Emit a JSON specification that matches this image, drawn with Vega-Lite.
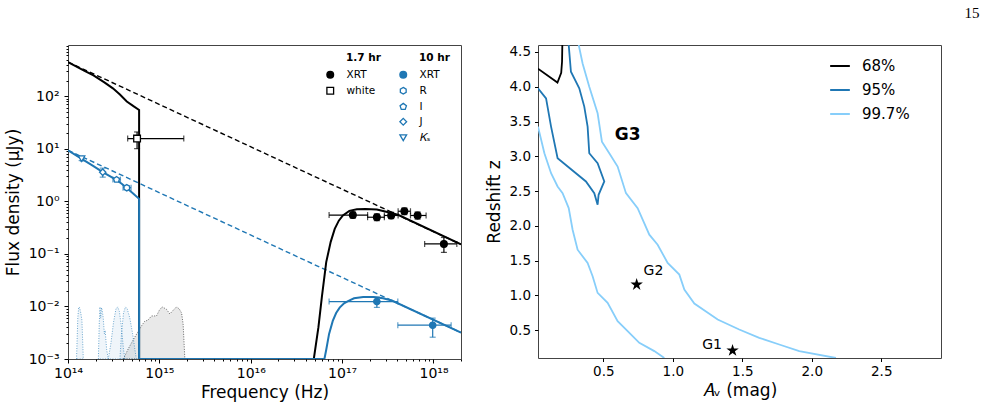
{
"$schema": "https://vega.github.io/schema/vega-lite/v6.json",
"background": "white",
"padding": {"left": 3, "top": 5, "right": 5, "bottom": 5},
"title": {"text": "15", "anchor": "end", "frame": "bounds", "font": "Liberation Serif", "fontSize": 15, "fontWeight": "normal", "color": "black", "offset": 18, "dx": 38},
"config": {
  "font": "DejaVu Sans",
  "view": {"stroke": "#444", "strokeWidth": 1},
  "axis": {"domain": false, "grid": false, "tickColor": "black", "labelColor": "black", "titleColor": "black", "titleFontWeight": "normal", "labelFont": "DejaVu Sans", "titleFont": "DejaVu Sans"}
},
"resolve": {"scale": {"color": "independent", "shape": "independent", "fill": "independent", "stroke": "independent"}, "legend": {"color": "independent"}},
"datasets": {
  "lines": [
    {"s":"bk_pl","o":0,"nu":1e14,"f":450},{"s":"bk_pl","o":1,"nu":2e18,"f":0.152},
    {"s":"bl_pl","o":0,"nu":1e14,"f":9.4},{"s":"bl_pl","o":1,"nu":2e18,"f":0.00318},
    {"s":"bk","o":0,"nu":1e14,"f":450},{"s":"bk","o":1,"nu":1.5e14,"f":310},{"s":"bk","o":2,"nu":1.9e14,"f":250},{"s":"bk","o":3,"nu":2.5e14,"f":185},{"s":"bk","o":4,"nu":3.1e14,"f":142},{"s":"bk","o":5,"nu":3.7e14,"f":108},{"s":"bk","o":6,"nu":4.4e14,"f":80},{"s":"bk","o":7,"nu":5.2e14,"f":65},{"s":"bk","o":8,"nu":6e14,"f":55},{"s":"bk","o":9,"nu":6e14,"f":0.001},{"s":"bk","o":10,"nu":4.9e16,"f":0.001},{"s":"bk","o":11,"nu":5.5e16,"f":0.004},{"s":"bk","o":12,"nu":6e16,"f":0.015},{"s":"bk","o":13,"nu":6.7e16,"f":0.07},{"s":"bk","o":14,"nu":7.5e16,"f":0.17},{"s":"bk","o":15,"nu":8.3e16,"f":0.3},{"s":"bk","o":16,"nu":9.2e16,"f":0.43},{"s":"bk","o":17,"nu":1.02e17,"f":0.54},{"s":"bk","o":18,"nu":1.2e17,"f":0.66},{"s":"bk","o":19,"nu":1.45e17,"f":0.71},{"s":"bk","o":20,"nu":1.8e17,"f":0.72},{"s":"bk","o":21,"nu":2.4e17,"f":0.7},{"s":"bk","o":22,"nu":3.2e17,"f":0.62},{"s":"bk","o":23,"nu":4.2e17,"f":0.545},{"s":"bk","o":24,"nu":2e18,"f":0.152},
    {"s":"bl","o":0,"nu":1e14,"f":9.4},{"s":"bl","o":1,"nu":1.4e14,"f":6.5},{"s":"bl","o":2,"nu":1.9e14,"f":4.7},{"s":"bl","o":3,"nu":2.4e14,"f":3.6},{"s":"bl","o":4,"nu":2.9e14,"f":3.0},{"s":"bl","o":5,"nu":3.4e14,"f":2.55},{"s":"bl","o":6,"nu":3.9e14,"f":2.15},{"s":"bl","o":7,"nu":4.4e14,"f":1.8},{"s":"bl","o":8,"nu":5.2e14,"f":1.4},{"s":"bl","o":9,"nu":6e14,"f":1.12},{"s":"bl","o":10,"nu":6e14,"f":0.001},{"s":"bl","o":11,"nu":6.4e16,"f":0.001},{"s":"bl","o":12,"nu":6.7e16,"f":0.0015},{"s":"bl","o":13,"nu":7.2e16,"f":0.003},{"s":"bl","o":14,"nu":7.9e16,"f":0.0053},{"s":"bl","o":15,"nu":8.6e16,"f":0.0075},{"s":"bl","o":16,"nu":9.4e16,"f":0.0095},{"s":"bl","o":17,"nu":1.05e17,"f":0.0115},{"s":"bl","o":18,"nu":1.16e17,"f":0.0127},{"s":"bl","o":19,"nu":1.35e17,"f":0.0143},{"s":"bl","o":20,"nu":1.7e17,"f":0.0152},{"s":"bl","o":21,"nu":2.2e17,"f":0.0152},{"s":"bl","o":22,"nu":2.8e17,"f":0.0143},{"s":"bl","o":23,"nu":3.5e17,"f":0.013},{"s":"bl","o":24,"nu":2e18,"f":0.00318}
  ],
  "filters": [
    {"filt":"Ks","nu":1.24e14,"f":0.001},{"filt":"Ks","nu":1.28e14,"f":0.006},{"filt":"Ks","nu":1.31e14,"f":0.0098},{"filt":"Ks","nu":1.34e14,"f":0.0095},{"filt":"Ks","nu":1.38e14,"f":0.0075},{"filt":"Ks","nu":1.42e14,"f":0.0055},{"filt":"Ks","nu":1.45e14,"f":0.002},{"filt":"Ks","nu":1.47e14,"f":0.001},
    {"filt":"J","nu":2.15e14,"f":0.001},{"filt":"J","nu":2.2e14,"f":0.005},{"filt":"J","nu":2.24e14,"f":0.0098},{"filt":"J","nu":2.28e14,"f":0.006},{"filt":"J","nu":2.33e14,"f":0.0095},{"filt":"J","nu":2.38e14,"f":0.008},{"filt":"J","nu":2.43e14,"f":0.006},{"filt":"J","nu":2.5e14,"f":0.003},{"filt":"J","nu":2.55e14,"f":0.0035},{"filt":"J","nu":2.65e14,"f":0.0015},{"filt":"J","nu":2.76e14,"f":0.001},
    {"filt":"I","nu":2.76e14,"f":0.001},{"filt":"I","nu":2.95e14,"f":0.002},{"filt":"I","nu":3.15e14,"f":0.005},{"filt":"I","nu":3.35e14,"f":0.009},{"filt":"I","nu":3.5e14,"f":0.0098},{"filt":"I","nu":3.65e14,"f":0.008},{"filt":"I","nu":3.85e14,"f":0.004},{"filt":"I","nu":4.05e14,"f":0.0015},{"filt":"I","nu":4.2e14,"f":0.001},
    {"filt":"R","nu":3.7e14,"f":0.001},{"filt":"R","nu":3.85e14,"f":0.003},{"filt":"R","nu":4.05e14,"f":0.0075},{"filt":"R","nu":4.25e14,"f":0.0098},{"filt":"R","nu":4.45e14,"f":0.009},{"filt":"R","nu":4.75e14,"f":0.006},{"filt":"R","nu":5.1e14,"f":0.003},{"filt":"R","nu":5.4e14,"f":0.0015},{"filt":"R","nu":5.6e14,"f":0.001},
    {"filt":"white","nu":4.03e14,"f":0.001},{"filt":"white","nu":4.6e14,"f":0.0016},{"filt":"white","nu":5.3e14,"f":0.0025},{"filt":"white","nu":5.9e14,"f":0.0034},{"filt":"white","nu":6.5e14,"f":0.0045},{"filt":"white","nu":6.9e14,"f":0.0052},{"filt":"white","nu":7.5e14,"f":0.0055},{"filt":"white","nu":8.2e14,"f":0.0066},{"filt":"white","nu":9.3e14,"f":0.0066},{"filt":"white","nu":1.0e15,"f":0.0085},{"filt":"white","nu":1.07e15,"f":0.0098},{"filt":"white","nu":1.15e15,"f":0.0092},{"filt":"white","nu":1.2e15,"f":0.0088},{"filt":"white","nu":1.3e15,"f":0.0072},{"filt":"white","nu":1.42e15,"f":0.0085},{"filt":"white","nu":1.54e15,"f":0.0098},{"filt":"white","nu":1.65e15,"f":0.009},{"filt":"white","nu":1.75e15,"f":0.0075},{"filt":"white","nu":1.82e15,"f":0.0046},{"filt":"white","nu":1.9e15,"f":0.001}
  ],
  "pts": [
    {"epoch":"1.7 hr","label":"XRT","nu":1.31e17,"f":0.55,"nulo":7.2e16,"nuhi":1.9e17,"flo":0.48,"fhi":0.63},
    {"epoch":"1.7 hr","label":"XRT","nu":2.4e17,"f":0.50,"nulo":1.9e17,"nuhi":2.9e17,"flo":0.43,"fhi":0.58},
    {"epoch":"1.7 hr","label":"XRT","nu":3.44e17,"f":0.54,"nulo":2.9e17,"nuhi":4.1e17,"flo":0.47,"fhi":0.62},
    {"epoch":"1.7 hr","label":"XRT","nu":4.8e17,"f":0.65,"nulo":4.1e17,"nuhi":5.6e17,"flo":0.56,"fhi":0.75},
    {"epoch":"1.7 hr","label":"XRT","nu":6.7e17,"f":0.54,"nulo":5.6e17,"nuhi":8.3e17,"flo":0.46,"fhi":0.63},
    {"epoch":"1.7 hr","label":"XRT","nu":1.3e18,"f":0.155,"nulo":8e17,"nuhi":1.8e18,"flo":0.107,"fhi":0.206},
    {"epoch":"1.7 hr","label":"white","nu":5.7e14,"f":15.7,"nulo":4.5e14,"nuhi":1.85e15,"flo":10.1,"fhi":21},
    {"epoch":"10 hr","label":"XRT","nu":2.4e17,"f":0.0124,"nulo":7.2e16,"nuhi":4.07e17,"flo":0.0096,"fhi":0.0151},
    {"epoch":"10 hr","label":"XRT","nu":9.8e17,"f":0.0044,"nulo":4.07e17,"nuhi":1.56e18,"flo":0.0026,"fhi":0.006},
    {"epoch":"10 hr","label":"R","nu":4.4e14,"f":1.82,"nulo":4.0e14,"nuhi":4.9e14,"flo":1.68,"fhi":1.97},
    {"epoch":"10 hr","label":"I","nu":3.4e14,"f":2.6,"nulo":3.1e14,"nuhi":3.75e14,"flo":2.4,"fhi":2.8},
    {"epoch":"10 hr","label":"J","nu":2.4e14,"f":3.6,"nulo":2.35e14,"nuhi":2.45e14,"flo":2.9,"fhi":4.3},
    {"epoch":"10 hr","label":"Ks","nu":1.41e14,"f":6.5,"nulo":1.37e14,"nuhi":1.45e14,"flo":6.0,"fhi":7.0}
  ],
  "cont": [
    {"lev":"68%","seg":"a","i":0,"av":0.205,"z":4.6},{"lev":"68%","seg":"a","i":1,"av":0.203,"z":4.36},{"lev":"68%","seg":"a","i":2,"av":0.197,"z":4.2},{"lev":"68%","seg":"a","i":3,"av":0.17,"z":4.06},{"lev":"68%","seg":"a","i":4,"av":0.03,"z":4.26},
    {"lev":"95%","seg":"b","i":0,"av":0.03,"z":3.977},{"lev":"95%","seg":"b","i":1,"av":0.088,"z":3.833},{"lev":"95%","seg":"b","i":2,"av":0.124,"z":3.427},{"lev":"95%","seg":"b","i":3,"av":0.171,"z":2.972},{"lev":"95%","seg":"b","i":4,"av":0.375,"z":2.638},{"lev":"95%","seg":"b","i":5,"av":0.435,"z":2.47},{"lev":"95%","seg":"b","i":6,"av":0.459,"z":2.303},{"lev":"95%","seg":"b","i":7,"av":0.466,"z":2.446},{"lev":"95%","seg":"b","i":8,"av":0.507,"z":2.638},{"lev":"95%","seg":"b","i":9,"av":0.459,"z":2.9},{"lev":"95%","seg":"b","i":10,"av":0.399,"z":3.044},{"lev":"95%","seg":"b","i":11,"av":0.387,"z":3.427},{"lev":"95%","seg":"b","i":12,"av":0.363,"z":3.714},{"lev":"95%","seg":"b","i":13,"av":0.327,"z":3.977},{"lev":"95%","seg":"b","i":14,"av":0.267,"z":4.216},{"lev":"95%","seg":"b","i":15,"av":0.251,"z":4.6},
    {"lev":"99.7%","seg":"c","i":0,"av":0.03,"z":3.427},{"lev":"99.7%","seg":"c","i":1,"av":0.076,"z":3.044},{"lev":"99.7%","seg":"c","i":2,"av":0.124,"z":2.757},{"lev":"99.7%","seg":"c","i":3,"av":0.171,"z":2.566},{"lev":"99.7%","seg":"c","i":4,"av":0.207,"z":2.47},{"lev":"99.7%","seg":"c","i":5,"av":0.251,"z":2.255},{"lev":"99.7%","seg":"c","i":6,"av":0.279,"z":1.944},{"lev":"99.7%","seg":"c","i":7,"av":0.315,"z":1.657},{"lev":"99.7%","seg":"c","i":8,"av":0.387,"z":1.466},{"lev":"99.7%","seg":"c","i":9,"av":0.423,"z":1.275},{"lev":"99.7%","seg":"c","i":10,"av":0.459,"z":1.036},{"lev":"99.7%","seg":"c","i":11,"av":0.531,"z":0.892},{"lev":"99.7%","seg":"c","i":12,"av":0.603,"z":0.629},{"lev":"99.7%","seg":"c","i":13,"av":0.675,"z":0.486},{"lev":"99.7%","seg":"c","i":14,"av":0.759,"z":0.318},{"lev":"99.7%","seg":"c","i":15,"av":0.867,"z":0.199},{"lev":"99.7%","seg":"c","i":16,"av":0.939,"z":0.1},
    {"lev":"99.7%","seg":"d","i":0,"av":0.323,"z":4.6},{"lev":"99.7%","seg":"d","i":1,"av":0.351,"z":4.335},{"lev":"99.7%","seg":"d","i":2,"av":0.399,"z":4.0},{"lev":"99.7%","seg":"d","i":3,"av":0.459,"z":3.618},{"lev":"99.7%","seg":"d","i":4,"av":0.49,"z":3.21},{"lev":"99.7%","seg":"d","i":5,"av":0.543,"z":3.044},{"lev":"99.7%","seg":"d","i":6,"av":0.603,"z":2.853},{"lev":"99.7%","seg":"d","i":7,"av":0.663,"z":2.47},{"lev":"99.7%","seg":"d","i":8,"av":0.747,"z":2.255},{"lev":"99.7%","seg":"d","i":9,"av":0.831,"z":1.873},{"lev":"99.7%","seg":"d","i":10,"av":0.891,"z":1.729},{"lev":"99.7%","seg":"d","i":11,"av":0.963,"z":1.466},{"lev":"99.7%","seg":"d","i":12,"av":1.047,"z":1.299},{"lev":"99.7%","seg":"d","i":13,"av":1.083,"z":1.083},{"lev":"99.7%","seg":"d","i":14,"av":1.155,"z":0.883},{"lev":"99.7%","seg":"d","i":15,"av":1.323,"z":0.653},{"lev":"99.7%","seg":"d","i":16,"av":1.478,"z":0.51},{"lev":"99.7%","seg":"d","i":17,"av":1.622,"z":0.39},{"lev":"99.7%","seg":"d","i":18,"av":1.766,"z":0.294},{"lev":"99.7%","seg":"d","i":19,"av":1.91,"z":0.199},{"lev":"99.7%","seg":"d","i":20,"av":2.174,"z":0.1}
  ],
  "stars": [{"name":"G2","av":0.74,"z":1.155},{"name":"G1","av":1.43,"z":0.208}],
  "labels": [{"name":"G2","av":0.79,"z":1.35},{"name":"G1","av":1.354,"z":0.294},{"name":"G3","av":0.675,"z":3.307}]
},
"spacing": 22,
"hconcat": [
  {
    "width": 393, "height": 314,
    "encoding": {
      "x": {"field": "nu", "type": "quantitative", "scale": {"type": "log", "domain": [1e14, 2e18], "nice": false},
        "axis": {"title": "Frequency (Hz)", "titleFontSize": 17, "labelFontSize": 14, "labelPadding": 3, "titlePadding": 4, "labelOverlap": false, "labelFlush": false, "labelBound": false,
          "values": [1e14,2e14,3e14,4e14,5e14,6e14,7e14,8e14,9e14,1e15,2e15,3e15,4e15,5e15,6e15,7e15,8e15,9e15,1e16,2e16,3e16,4e16,5e16,6e16,7e16,8e16,9e16,1e17,2e17,3e17,4e17,5e17,6e17,7e17,8e17,9e17,1e18,2e18],
          "labelExpr": "datum.value==1e14?'10¹⁴':datum.value==1e15?'10¹⁵':datum.value==1e16?'10¹⁶':datum.value==1e17?'10¹⁷':datum.value==1e18?'10¹⁸':''",
          "tickSize": {"condition": {"test": "indexof([1e14,1e15,1e16,1e17,1e18], datum.value) >= 0", "value": 4}, "value": 2}}},
      "y": {"field": "f", "type": "quantitative", "scale": {"type": "log", "domain": [0.001, 950], "nice": false},
        "axis": {"title": "Flux density (μJy)", "titleFontSize": 17, "labelFontSize": 14, "labelPadding": 5, "titlePadding": 6, "labelOverlap": false, "labelFlush": false, "labelBound": false,
          "values": [0.001,0.002,0.003,0.004,0.005,0.006,0.007,0.008,0.009,0.01,0.02,0.03,0.04,0.05,0.06,0.07,0.08,0.09,0.1,0.2,0.3,0.4,0.5,0.6,0.7,0.8,0.9,1,2,3,4,5,6,7,8,9,10,20,30,40,50,60,70,80,90,100,200,300,400,500,600,700,800,900],
          "labelExpr": "datum.value==0.001?'10⁻³':datum.value==0.01?'10⁻²':datum.value==0.1?'10⁻¹':datum.value==1?'10⁰':datum.value==10?'10¹':datum.value==100?'10²':''",
          "tickSize": {"condition": {"test": "indexof([0.001,0.01,0.1,1,10,100], datum.value) >= 0", "value": 4}, "value": 2}}}
    },
    "layer": [
      {"data": {"name": "filters"}, "transform": [{"filter": "datum.filt == 'white'"}],
       "mark": {"type": "area", "fill": "#d4d4d4", "fillOpacity": 0.5, "stroke": "#555555", "strokeWidth": 0.9, "strokeDash": [1, 1.5], "clip": true},
       "encoding": {"y2": {"datum": 0.001}, "detail": {"field": "filt"}}},
      {"data": {"name": "filters"}, "transform": [{"filter": "datum.filt != 'white'"}],
       "mark": {"type": "area", "fill": "#1f77b4", "fillOpacity": 0.07, "stroke": "#1f77b4", "strokeOpacity": 0.7, "strokeWidth": 0.9, "strokeDash": [1, 1.5], "clip": true},
       "encoding": {"y2": {"datum": 0.001}, "detail": {"field": "filt"}}},
      {"data": {"name": "lines"}, "transform": [{"filter": "datum.s == 'bk_pl'"}],
       "mark": {"type": "line", "color": "black", "strokeWidth": 1.4, "strokeDash": [5, 3], "clip": true},
       "encoding": {"order": {"field": "o"}}},
      {"data": {"name": "lines"}, "transform": [{"filter": "datum.s == 'bl_pl'"}],
       "mark": {"type": "line", "color": "#1f77b4", "strokeWidth": 1.4, "strokeDash": [5, 3], "clip": true},
       "encoding": {"order": {"field": "o"}}},
      {"data": {"name": "lines"}, "transform": [{"filter": "datum.s == 'bk'"}],
       "mark": {"type": "line", "color": "black", "strokeWidth": 2, "clip": true},
       "encoding": {"order": {"field": "o"}}},
      {"data": {"name": "lines"}, "transform": [{"filter": "datum.s == 'bl'"}],
       "mark": {"type": "line", "color": "#1f77b4", "strokeWidth": 2, "clip": true},
       "encoding": {"order": {"field": "o"}}},
      {"data": {"name": "pts"},
       "mark": {"type": "rule", "strokeWidth": 1.2, "clip": true},
       "encoding": {"x": {"field": "nulo", "type": "quantitative"}, "x2": {"field": "nuhi"}, "color": {"field": "epoch", "type": "nominal", "scale": {"domain": ["1.7 hr", "10 hr"], "range": ["black", "#1f77b4"]}, "legend": null}}},
      {"data": {"name": "pts"},
       "mark": {"type": "rule", "strokeWidth": 1.2, "clip": true},
       "encoding": {"y": {"field": "flo", "type": "quantitative"}, "y2": {"field": "fhi"}, "color": {"field": "epoch", "type": "nominal", "scale": {"domain": ["1.7 hr", "10 hr"], "range": ["black", "#1f77b4"]}, "legend": null}}},
      {"data": {"name": "pts"},
       "mark": {"type": "tick", "orient": "vertical", "size": 6, "thickness": 1.2, "clip": true},
       "encoding": {"x": {"field": "nulo", "type": "quantitative"}, "color": {"field": "epoch", "type": "nominal", "legend": null}}},
      {"data": {"name": "pts"},
       "mark": {"type": "tick", "orient": "vertical", "size": 6, "thickness": 1.2, "clip": true},
       "encoding": {"x": {"field": "nuhi", "type": "quantitative"}, "color": {"field": "epoch", "type": "nominal", "legend": null}}},
      {"data": {"name": "pts"},
       "mark": {"type": "tick", "orient": "horizontal", "size": 6, "thickness": 1.2, "clip": true},
       "encoding": {"y": {"field": "flo", "type": "quantitative"}, "color": {"field": "epoch", "type": "nominal", "legend": null}}},
      {"data": {"name": "pts"},
       "mark": {"type": "tick", "orient": "horizontal", "size": 6, "thickness": 1.2, "clip": true},
       "encoding": {"y": {"field": "fhi", "type": "quantitative"}, "color": {"field": "epoch", "type": "nominal", "legend": null}}},
      {"data": {"name": "pts"}, "transform": [{"filter": "datum.epoch == '1.7 hr'"}],
       "mark": {"type": "point", "filled": true, "strokeWidth": 1.3, "opacity": 1, "size": 45},
       "encoding": {
         "shape": {"field": "label", "type": "nominal", "scale": {"domain": ["XRT", "white"], "range": ["circle", "square"]},
           "legend": {"title": "\u200b\u2003\u20031.7 hr", "orient": "none", "legendX": 257, "legendY": 8, "padding": 0, "titleFontSize": 10.5, "titleFontWeight": "bold", "titleColor": "black", "labelFontSize": 10.5, "labelColor": "black", "labelOffset": 11, "rowPadding": 3, "titlePadding": 6, "symbolStrokeWidth": 1.3, "symbolSize": 45}},
         "fill": {"field": "label", "type": "nominal", "scale": {"domain": ["XRT", "white"], "range": ["black", "white"]},
           "legend": {"title": "\u200b\u2003\u20031.7 hr", "orient": "none", "legendX": 257, "legendY": 8, "padding": 0, "titleFontSize": 10.5, "titleFontWeight": "bold", "titleColor": "black", "labelFontSize": 10.5, "labelColor": "black", "labelOffset": 11, "rowPadding": 3, "titlePadding": 6, "symbolStrokeWidth": 1.3, "symbolSize": 45}},
         "stroke": {"field": "label", "type": "nominal", "scale": {"domain": ["XRT", "white"], "range": ["black", "black"]},
           "legend": {"title": "\u200b\u2003\u20031.7 hr", "orient": "none", "legendX": 257, "legendY": 8, "padding": 0, "titleFontSize": 10.5, "titleFontWeight": "bold", "titleColor": "black", "labelFontSize": 10.5, "labelColor": "black", "labelOffset": 11, "rowPadding": 3, "titlePadding": 6, "symbolStrokeWidth": 1.3, "symbolSize": 45}}
       }},
      {"data": {"name": "pts"}, "transform": [{"filter": "datum.epoch == '10 hr'"}],
       "mark": {"type": "point", "filled": true, "strokeWidth": 1.3, "opacity": 1, "size": 40},
       "encoding": {
         "shape": {"field": "label", "type": "nominal", "scale": {"domain": ["XRT", "R", "I", "J", "Ks"], "range": ["circle", "M0,-1L0.866,-0.5L0.866,0.5L0,1L-0.866,0.5L-0.866,-0.5Z", "M0,-1L0.951,-0.309L0.588,0.809L-0.588,0.809L-0.951,-0.309Z", "diamond", "triangle-down"]},
           "legend": {"title": "\u200b\u2003\u200310 hr", "orient": "none", "legendX": 330, "legendY": 8, "padding": 0, "titleFontSize": 10.5, "titleFontWeight": "bold", "titleColor": "black", "labelFontSize": 10.5, "labelColor": "black", "labelOffset": 11, "rowPadding": 3, "titlePadding": 6, "symbolStrokeWidth": 1.3, "symbolSize": 45, "labelExpr": "datum.label == 'Ks' ? '𝐾ₛ' : datum.label"}},
         "fill": {"field": "label", "type": "nominal", "scale": {"domain": ["XRT", "R", "I", "J", "Ks"], "range": ["#1f77b4", "white", "white", "white", "white"]},
           "legend": {"title": "\u200b\u2003\u200310 hr", "orient": "none", "legendX": 330, "legendY": 8, "padding": 0, "titleFontSize": 10.5, "titleFontWeight": "bold", "titleColor": "black", "labelFontSize": 10.5, "labelColor": "black", "labelOffset": 11, "rowPadding": 3, "titlePadding": 6, "symbolStrokeWidth": 1.3, "symbolSize": 45, "labelExpr": "datum.label == 'Ks' ? '𝐾ₛ' : datum.label"}},
         "stroke": {"field": "label", "type": "nominal", "scale": {"domain": ["XRT", "R", "I", "J", "Ks"], "range": ["#1f77b4", "#1f77b4", "#1f77b4", "#1f77b4", "#1f77b4"]},
           "legend": {"title": "\u200b\u2003\u200310 hr", "orient": "none", "legendX": 330, "legendY": 8, "padding": 0, "titleFontSize": 10.5, "titleFontWeight": "bold", "titleColor": "black", "labelFontSize": 10.5, "labelColor": "black", "labelOffset": 11, "rowPadding": 3, "titlePadding": 6, "symbolStrokeWidth": 1.3, "symbolSize": 45, "labelExpr": "datum.label == 'Ks' ? '𝐾ₛ' : datum.label"}}
       }}
    ],
    "resolve": {"scale": {"shape": "independent", "fill": "independent", "stroke": "independent"}, "legend": {"shape": "independent", "fill": "independent", "stroke": "independent"}}
  },
  {
    "width": 403, "height": 313,
    "encoding": {
      "x": {"field": "av", "type": "quantitative", "scale": {"domain": [0.03, 2.93], "nice": false, "zero": false},
        "axis": {"title": "𝐴ᵥ (mag)", "titleFontSize": 17, "labelFontSize": 13.5, "labelPadding": 3, "titlePadding": 4, "tickSize": 3.5, "values": [0.5, 1, 1.5, 2, 2.5], "format": ".1f", "labelFlush": false}},
      "y": {"field": "z", "type": "quantitative", "scale": {"domain": [0.1, 4.6], "nice": false, "zero": false},
        "axis": {"title": "Redshift z", "titleFontSize": 17, "labelFontSize": 13.5, "labelPadding": 4, "titlePadding": 6, "tickSize": 3.5, "values": [0.5, 1, 1.5, 2, 2.5, 3, 3.5, 4, 4.5], "format": ".1f", "labelFlush": false}}
    },
    "layer": [
      {"data": {"name": "cont"},
       "mark": {"type": "line", "strokeWidth": 1.8, "clip": true},
       "encoding": {"color": {"field": "lev", "type": "nominal", "scale": {"domain": ["68%", "95%", "99.7%"], "range": ["black", "#1f77b4", "#87cefa"]},
           "legend": {"title": null, "orient": "none", "legendX": 293, "legendY": 12, "padding": 0, "labelFontSize": 15, "labelColor": "black", "labelOffset": 13, "rowPadding": 7, "symbolType": "M-1.23,0H1.23", "symbolSize": 256, "symbolStrokeWidth": 2}},
         "detail": {"field": "seg"}, "order": {"field": "i"}}},
      {"data": {"name": "stars"},
       "mark": {"type": "point", "filled": true, "color": "black", "opacity": 1, "size": 170, "shape": "M0,-1L0.2245,-0.309L0.951,-0.309L0.363,0.118L0.588,0.809L0,0.382L-0.588,0.809L-0.363,0.118L-0.951,-0.309L-0.2245,-0.309Z"}},
      {"data": {"name": "labels"}, "transform": [{"filter": "datum.name == 'G2'"}],
       "mark": {"type": "text", "align": "left", "baseline": "middle", "fontSize": 14, "color": "black"},
       "encoding": {"text": {"field": "name"}}},
      {"data": {"name": "labels"}, "transform": [{"filter": "datum.name == 'G1'"}],
       "mark": {"type": "text", "align": "right", "baseline": "middle", "fontSize": 14, "color": "black"},
       "encoding": {"text": {"field": "name"}}},
      {"data": {"name": "labels"}, "transform": [{"filter": "datum.name == 'G3'"}],
       "mark": {"type": "text", "align": "center", "baseline": "middle", "fontSize": 17, "fontWeight": "bold", "color": "black"},
       "encoding": {"text": {"field": "name"}}}
    ]
  }
]
}
